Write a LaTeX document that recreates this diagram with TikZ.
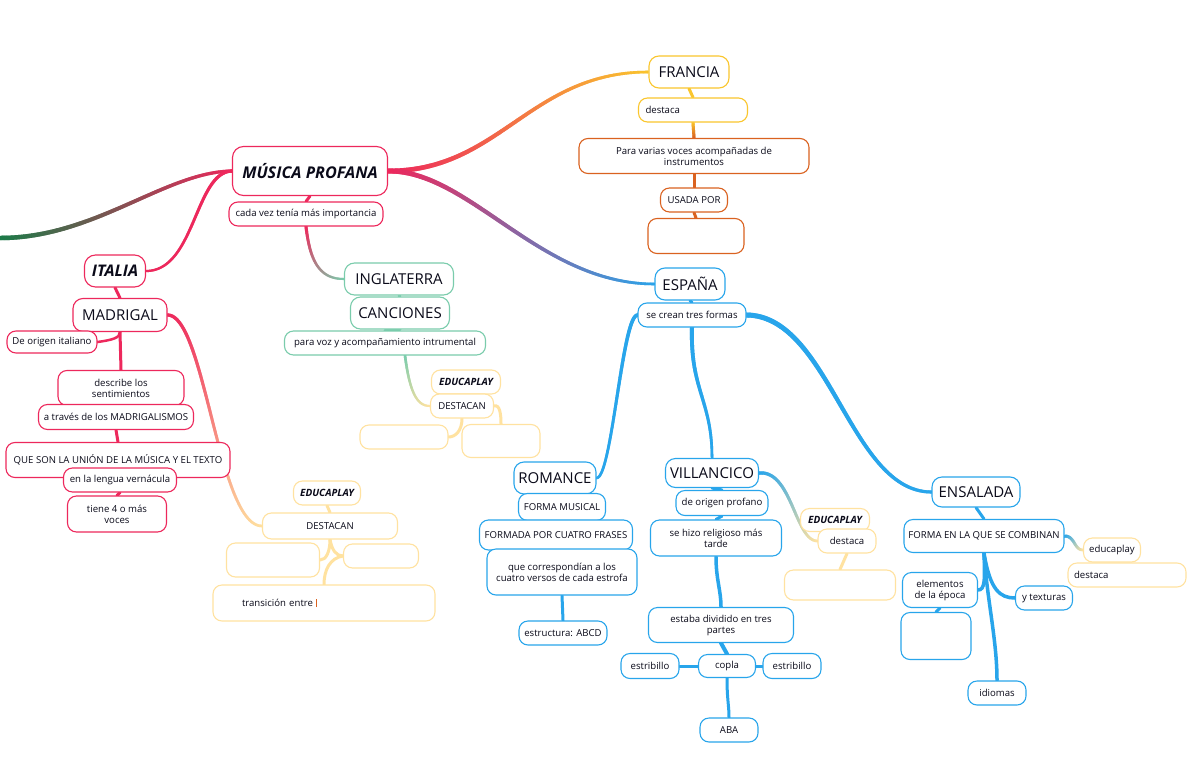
\documentclass[tikz,border=0pt]{standalone}
\usepackage{fontspec}
\setmainfont{Open Sans}
\usetikzlibrary{decorations.markings,backgrounds,calc}
\definecolor{pinkc}{RGB}{237,40,92}
\definecolor{greenc}{RGB}{28,122,72}
\definecolor{tealc}{RGB}{122,204,172}
\definecolor{yellowc}{RGB}{250,198,45}
\definecolor{orangec}{RGB}{218,98,32}
\definecolor{bluec}{RGB}{40,165,235}
\definecolor{paley}{RGB}{255,226,160}
\definecolor{txt}{RGB}{10,10,25}
\tikzset{
  gline/.style n args={4}{postaction={decorate,decoration={markings,
    mark=between positions 0 and 1 step 0.8pt with {%
      \pgfmathsetmacro\gt{min(1,\pgfkeysvalueof{/pgf/decoration/mark info/distance from start}/\pgfdecoratedpathlength)}%
      \pgfmathtruncatemacro\gp{100*\gt}%
      \pgfmathsetmacro\gw{#3+(#4-#3)*\gt}%
      \draw[line width=\gw pt,color=#2!\gp!#1] (-0.7pt,0)--(0.7pt,0);}}}},
  box/.style={draw, rounded corners=9pt, fill=white, line width=1.1pt, inner sep=0pt, align=center, text=txt},
  small/.style={box, font=\fontsize{9.6}{11}\selectfont},
  head/.style={box, rounded corners=10pt, font=\fontsize{15}{17}\selectfont},
  titl/.style={box, rounded corners=11pt, font=\fontsize{16.2}{18}\selectfont\bfseries\itshape},
  edu/.style={box, draw=paley, font=\fontsize{10}{11}\selectfont\bfseries\itshape},
  sz/.style n args={2}{minimum width=#1pt, minimum height=#2pt},
  conn/.style={line width=#1, line cap=round},
}
\begin{document}
\begin{tikzpicture}[x=1pt,y=-1pt]
\useasboundingbox (0,0) rectangle (1198,765);

% ---- root and Italia ----
\node[titl, draw=pinkc, sz={155}{49}] (mp) at (310,171) {MÚSICA PROFANA};
\node[small, draw=pinkc, sz={154}{24}] (cada) at (306,214) {cada vez tenía más importancia};
\node[titl, draw=pinkc, sz={61}{32}, font=\fontsize{16}{18}\selectfont\bfseries\itshape] (italia) at (115,271) {ITALIA};
\node[head, draw=pinkc, sz={94}{33}] (madrigal) at (120,315) {MADRIGAL};
\node[small, draw=pinkc, sz={90}{22}] (deorigen) at (52,342) {De origen italiano};
\node[small, draw=pinkc, sz={126}{35}] (describe) at (121,388) {describe los\\sentimientos};
\node[small, draw=pinkc, sz={155}{25}] (atraves) at (116,417) {a través de los MADRIGALISMOS};
\node[small, draw=pinkc, sz={224}{35}] (queson) at (118,460) {QUE SON LA UNIÓN DE LA MÚSICA Y EL TEXTO};
\node[small, draw=pinkc, sz={113}{24}] (enla) at (120,480) {en la lengua vernácula};
\node[small, draw=pinkc, sz={99}{36}] (tiene) at (117,514) {tiene 4 o más\\voces};
\node[edu, sz={67}{24}] (educL) at (327,493) {EDUCAPLAY};
\node[small, draw=paley, sz={135}{26}] (destL) at (330,526) {DESTACAN};
\node[small, draw=paley, sz={93}{34}] (emptyLa) at (273,560) {};
\node[small, draw=paley, sz={75}{24}] (emptyLb) at (381,556) {};
\node[small, draw=paley, sz={222}{36}, text width=164pt, inner xsep=29pt, align=left] (trans) at (324,603) {transición entre {\color{orangec}\rule[-1pt]{0.6pt}{8pt}}\\[3pt]};

% ---- Inglaterra ----
\node[head, draw=tealc, sz={109}{32}] (inglaterra) at (399,279) {INGLATERRA};
\node[head, draw=tealc, sz={99}{32}] (canciones) at (400,313) {CANCIONES};
\node[small, draw=tealc, sz={201}{24}] (paravoz) at (385,343) {para voz y acompañamiento intrumental};
\node[edu, sz={69}{24}] (educM) at (466,382) {EDUCAPLAY};
\node[small, draw=paley, sz={63}{24}] (destM) at (462,406) {DESTACAN};
\node[small, draw=paley, sz={88}{24}] (emptyMa) at (404,437) {};
\node[small, draw=paley, sz={78}{33}] (emptyMb) at (501,441) {};

% ---- Francia ----
\node[head, draw=yellowc, sz={80}{32}] (francia) at (689,72) {FRANCIA};
\node[small, draw=yellowc, sz={109}{24}, text width=95pt, inner xsep=7pt, align=left] (destF) at (693,110) {destaca};
\node[small, draw=orangec, sz={230}{35}] (para) at (694,156) {Para varias voces acompañadas de\\instrumentos};
\node[small, draw=orangec, sz={67}{24}] (usada) at (694,200) {USADA POR};
\node[small, draw=orangec, sz={96}{35}] (emptyF) at (696,236) {};

% ---- España ----
\node[head, draw=bluec, sz={70}{32}] (espana) at (690,284) {ESPAÑA};
\node[small, draw=bluec, sz={108}{24}] (secrean) at (692,315) {se crean tres formas};

\node[head, draw=bluec, sz={82}{32}] (romance) at (555,478) {ROMANCE};
\node[small, draw=bluec, sz={87}{27}] (formamus) at (562,507) {FORMA MUSICAL};
\node[small, draw=bluec, sz={153}{30}] (formada) at (556,535) {FORMADA POR CUATRO FRASES};
\node[small, draw=bluec, sz={150}{46}] (quecorr) at (562,572) {que correspondían a los\\cuatro versos de cada estrofa};
\node[small, draw=bluec, sz={88}{24}] (estructura) at (563,633) {estructura: ABCD};

\node[head, draw=bluec, sz={93}{29}] (villancico) at (712,473) {VILLANCICO};
\node[small, draw=bluec, sz={92}{25}] (deorigenp) at (722,503) {de origen profano};
\node[small, draw=bluec, sz={131}{36}] (sehizo) at (716,538) {se hizo religioso más\\tarde};
\node[small, draw=bluec, sz={145}{35}] (estaba) at (721,625) {estaba dividido en tres\\partes};
\node[small, draw=bluec, sz={57}{23}] (copla) at (727,666) {copla};
\node[small, draw=bluec, sz={58}{25}] (estrL) at (650,666) {estribillo};
\node[small, draw=bluec, sz={58}{25}] (estrR) at (792,666) {estribillo};
\node[small, draw=bluec, sz={58}{24}] (aba) at (729,730) {ABA};
\node[edu, sz={69}{23}] (educV) at (835,520) {EDUCAPLAY};
\node[small, draw=paley, sz={58}{24}] (destV) at (847,541) {destaca};
\node[small, draw=paley, sz={111}{30}] (emptyV) at (840,585) {};

\node[head, draw=bluec, sz={88}{30}] (ensalada) at (976,492) {ENSALADA};
\node[small, draw=bluec, sz={160}{33}] (formaen) at (984,536) {FORMA EN LA QUE SE COMBINAN};
\node[small, draw=paley, sz={57}{24}] (educE) at (1112,550) {educaplay};
\node[small, draw=paley, sz={118}{24}, text width=106pt, inner xsep=6pt, align=left] (destE) at (1127,575) {destaca};
\node[small, draw=bluec, sz={75}{35}] (elementos) at (940,590) {elementos\\de la época};
\node[small, draw=bluec, sz={70}{47}] (emptyE) at (936,636) {};
\node[small, draw=bluec, sz={57}{24}] (texturas) at (1044,598) {y texturas};
\node[small, draw=bluec, sz={58}{24}] (idiomas) at (997,693) {idiomas};

% ---- connectors ----
\begin{scope}[on background layer]
\fill[white] (0,0) rectangle (1198,765);
\coordinate (offL) at (0,238);
\path[gline={greenc}{pinkc}{4.5}{3}] (offL) .. controls (95,238) and (165,172) .. (mp.west);
\path[gline={pinkc}{pinkc}{3.2}{2.2}] (mp.west) .. controls (195,172) and (195,271) .. (italia.east);
\path[gline={pinkc}{yellowc}{4.8}{2.5}] (mp.east) .. controls (500,171) and (530,72) .. (francia.west);
\path[gline={pinkc}{bluec}{4.8}{2.5}] (mp.east) .. controls (470,171) and (540,284) .. (espana.west);
\draw[pinkc, conn=3] (mp.south) -- (cada.north);
\path[gline={pinkc}{tealc}{3}{2}] (cada.south) .. controls (310,262) and (320,279) .. (inglaterra.west);

\draw[pinkc, conn=3] (italia.south) -- (madrigal.north);
\path[gline={pinkc}{paley}{3.2}{2.5}] (madrigal.east) .. controls (205,315) and (218,526) .. (destL.west);
\draw[pinkc, conn=3] (madrigal.south) -- (describe.north);
\draw[pinkc, conn=3] (atraves.south) -- (queson.north);
\draw[pinkc, conn=3] (enla.south) -- (tiene.north);
\draw[pinkc, conn=2.5] (deorigen.east) .. controls (112,340) and (120,338) .. (madrigal.south);

\draw[paley, conn=3] (educL.south) -- (destL.north);
\draw[paley, conn=3] (destL.south) .. controls (330,552) and (326,560) .. (emptyLa.east);
\draw[paley, conn=3] (destL.south) .. controls (332,550) and (336,556) .. (emptyLb.west);
\draw[paley, conn=3] (emptyLb.west) .. controls (330,558) and (324,570) .. (trans.north);

\draw[tealc, conn=3] (inglaterra.south) -- (canciones.north);
\draw[tealc, conn=3] (canciones.south) -- (paravoz.north);
\path[gline={tealc}{paley}{2.6}{2}] ($(paravoz.south)+(20,0)$) .. controls (410,395) and (418,406) .. (destM.west);
\draw[paley, conn=3] (educM.south) -- (destM.north);
\draw[paley, conn=3] (destM.south) .. controls (462,430) and (456,437) .. (emptyMa.east);
\draw[paley, conn=3] (destM.east) .. controls (500,404) and (501,415) .. (emptyMb.north);

\draw[yellowc, conn=3] (francia.south) -- (destF.north);
\path[gline={yellowc}{orangec}{3}{3}] (destF.south) -- (para.north);
\draw[orangec, conn=3] (para.south) -- (usada.north);
\draw[orangec, conn=3] (usada.south) -- (emptyF.north);

\draw[bluec, conn=3] (espana.south) -- (secrean.north);
\path[gline={bluec}{bluec}{3.5}{2.5}] (secrean.west) .. controls (622,316) and (612,478) .. (romance.east);
\path[gline={bluec}{bluec}{4}{2.5}] (secrean.south) .. controls (690,390) and (712,400) .. (villancico.north);
\path[gline={bluec}{bluec}{5}{3}] (secrean.east) .. controls (830,316) and (850,492) .. (ensalada.west);

\draw[bluec, conn=3] (quecorr.south) -- (estructura.north);

\draw[bluec, conn=3] (villancico.south) -- (deorigenp.north);
\draw[bluec, conn=3] (deorigenp.south) -- (sehizo.north);
\draw[bluec, conn=3.5] (sehizo.south) .. controls (716,580) and (721,590) .. (estaba.north);
\draw[bluec, conn=4] (estaba.south) -- (copla.north);
\draw[bluec, conn=3] (copla.west) -- (estrL.east);
\draw[bluec, conn=3] (copla.east) -- (estrR.west);
\draw[bluec, conn=3] (copla.south) .. controls (727,700) and (729,705) .. (aba.north);
\path[gline={bluec}{paley}{3.2}{2.5}] (villancico.east) .. controls (792,470) and (795,541) .. (destV.west);
\draw[paley, conn=3] (educV.south) -- (destV.north);
\draw[paley, conn=3] (destV.south) -- (emptyV.north);

\draw[bluec, conn=3] (ensalada.south) -- (formaen.north);
\draw[bluec, conn=3.5] (formaen.south) .. controls (985,580) and (985,590) .. (elementos.east);
\draw[bluec, conn=3.5] (formaen.south) .. controls (990,590) and (1000,598) .. (texturas.west);
\draw[bluec, conn=3.5] (formaen.south) .. controls (987,600) and (997,640) .. (idiomas.north);
\path[gline={bluec}{paley}{3}{2.5}] (formaen.east) .. controls (1075,536) and (1074,550) .. (educE.west);
\draw[bluec, conn=3] (elementos.south) -- (emptyE.north);
\end{scope}
\end{tikzpicture}
\end{document}
